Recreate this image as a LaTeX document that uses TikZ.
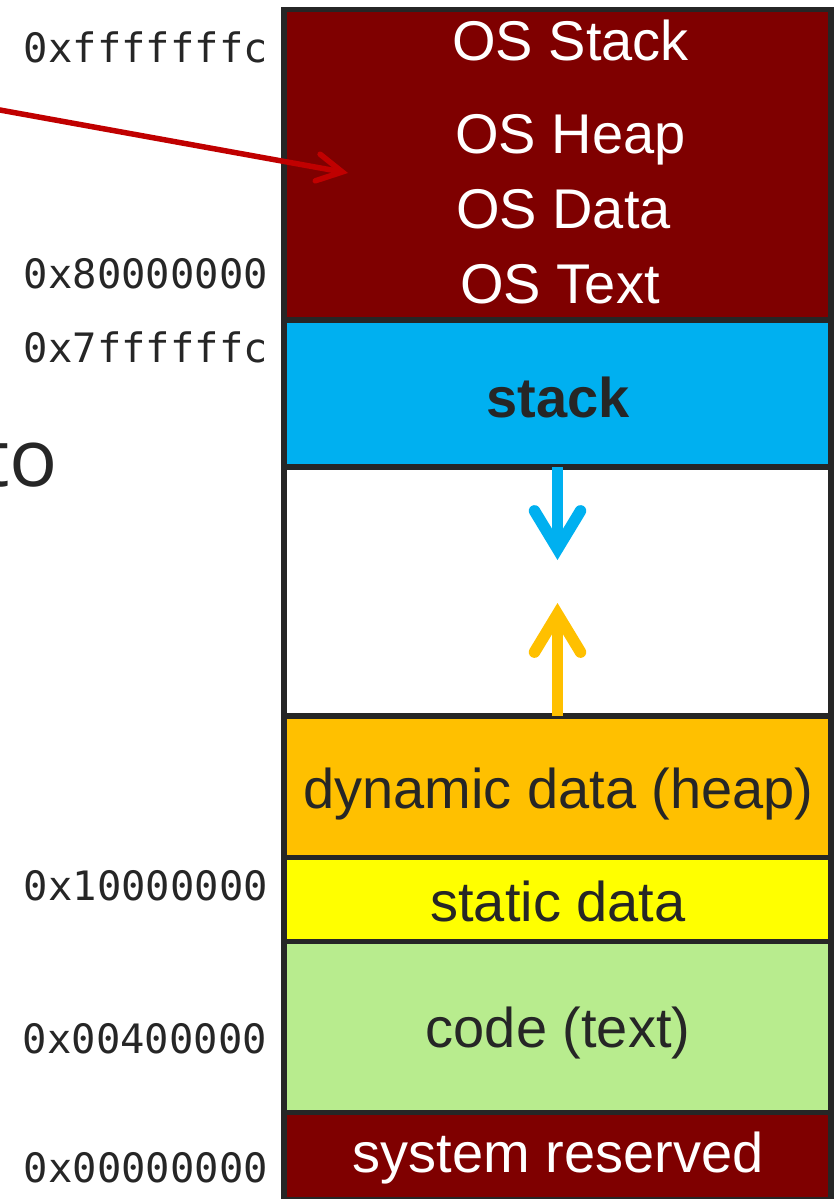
\documentclass[tikz,border=0pt]{standalone}
\usepackage{fontspec}
\setmainfont{Liberation Sans}
\newfontfamily\monof{DejaVu Sans Mono}
\newfontfamily\tofont{Open Sans}
\usetikzlibrary{arrows.meta}
\definecolor{osred}{HTML}{7F0000}
\definecolor{stackblue}{HTML}{00B0F0}
\definecolor{heaporange}{HTML}{FFC000}
\definecolor{statyellow}{HTML}{FFFF00}
\definecolor{codegreen}{HTML}{B8EC8E}
\definecolor{ink}{HTML}{262626}
\definecolor{arrowred}{HTML}{C00000}
\begin{document}
\begin{tikzpicture}[x=1pt,y=-1pt,
  cell/.style={draw=ink, line width=5.5pt, rectangle, minimum width=547pt,
    anchor=north west, inner sep=0pt, outer sep=0pt},
  celltext/.style={anchor=base, inner sep=0pt, text=ink, font=\fontsize{56}{60}\selectfont},
  ostext/.style={celltext, text=white},
  addr/.style={anchor=base east, inner sep=0pt, text=ink, font=\monof\fontsize{40.5}{44}\selectfont},
  growarrow/.style={line width=11.5pt, -{Straight Barb[length=38pt,width=46pt,line cap=round,line join=miter]}},
  ptrarrow/.style={draw=arrowred, line width=5.5pt, -{Straight Barb[length=25pt,width=27pt,line cap=round,line join=miter]}},
]
\useasboundingbox (0,0) rectangle (837,1199);
\clip (0,0) rectangle (837,1199);

% memory cells
\node[cell, fill=osred, minimum height=310.5pt] (os) at (284,9.5) {};
\node[cell, fill=stackblue, minimum height=147pt] (stk) at (284,320) {};
\node[cell, fill=white, minimum height=249pt] (free) at (284,467) {};
\node[cell, fill=heaporange, minimum height=141.5pt] (heap) at (284,716) {};
\node[cell, fill=statyellow, minimum height=84pt] (stat) at (284,857.5) {};
\node[cell, fill=codegreen, minimum height=171pt] (code) at (284,941.5) {};
\node[cell, fill=osred, minimum height=87pt] (sys) at (284,1112.5) {};

% texts in cells
\node[ostext] (osstack) at (570.5,61) {OS Stack};
\node[ostext] (osheap) at (570.5,153) {OS Heap};
\node[ostext] (osdata) at (563.5,228) {OS Data};
\node[ostext] (ostext) at (560,303) {OS Text};
\node[celltext, font=\bfseries\fontsize{56}{60}\selectfont] (stacklbl) at (558,417) {stack};
\node[celltext] (heaplbl) at (558.5,808) {dynamic data (heap)};
\node[celltext] (statlbl) at (558,921) {static data};
\node[celltext] (codelbl) at (558,1047) {code (text)};
\node[ostext] (syslbl) at (558,1172) {system reserved};

% addresses
\node[addr] (a1) at (268,63) {0xfffffffc};
\node[addr] (a2) at (268,288) {0x80000000};
\node[addr] (a3) at (268,362.5) {0x7ffffffc};
\node[addr] (a4) at (268,900) {0x10000000};
\node[addr] (a5) at (267,1053) {0x00400000};
\node[addr] (a6) at (268,1182) {0x00000000};

% partial text at the left
\node[anchor=base east, inner sep=0pt, text=ink, font=\tofont\fontsize{80}{84}\selectfont] (tolbl) at (58,486) {to};

% growth arrows
\coordinate (stacktip) at (557.5,560);
\coordinate (heaptip) at (557.5,603);
\draw[growarrow, draw=stackblue] (stk.south) -- (stacktip);
\draw[growarrow, draw=heaporange] (heap.north) -- (heaptip);

% pointer arrow
\coordinate (ptrstart) at (-20,106.4);
\coordinate (ptrtip) at (348,173);
\draw[ptrarrow] (ptrstart) -- (ptrtip);
\end{tikzpicture}
\end{document}
